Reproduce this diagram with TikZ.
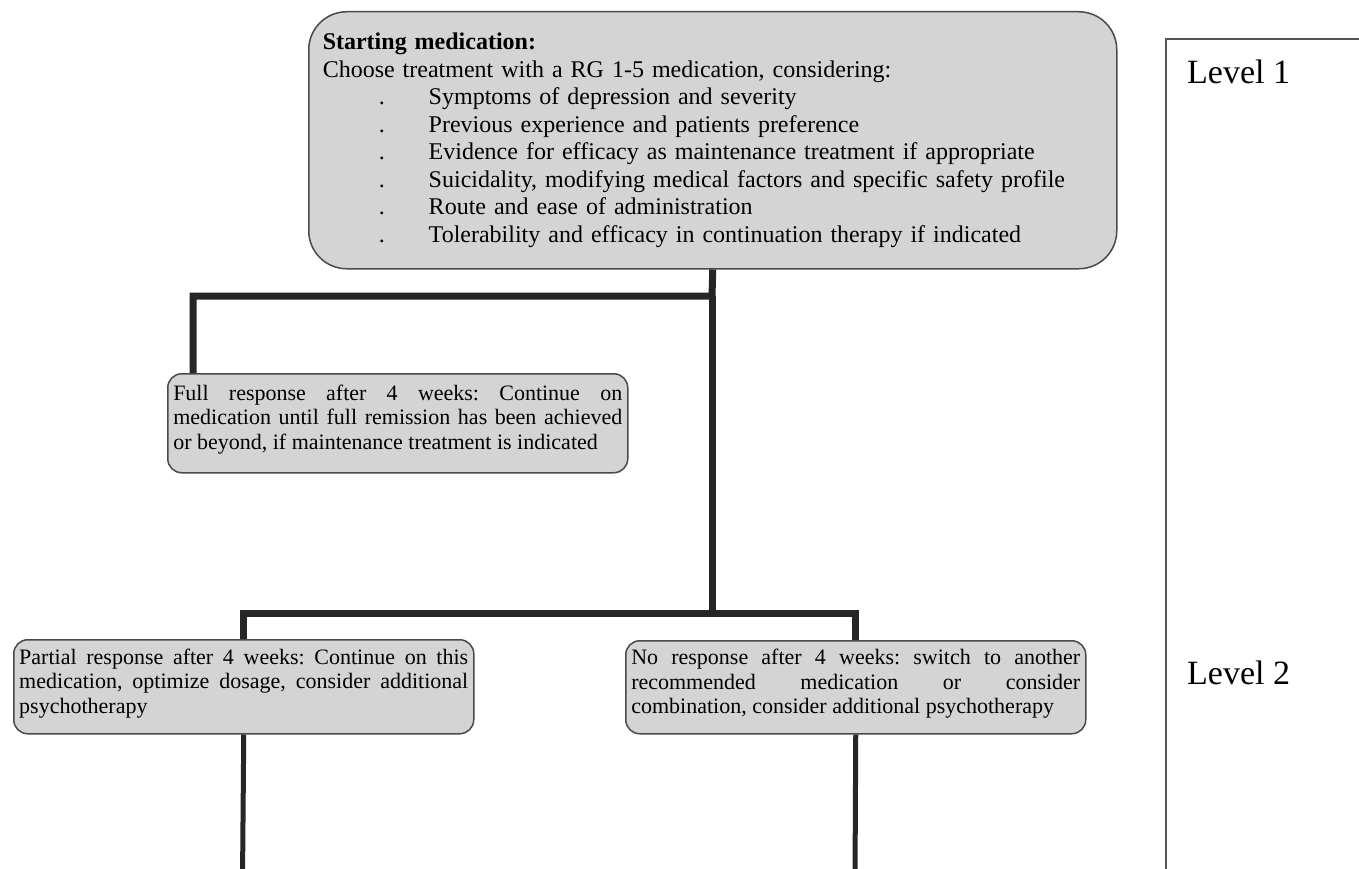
\documentclass[tikz,border=0pt]{standalone}
\usepackage{fontspec}
\setmainfont{Liberation Serif}
\definecolor{boxfill}{HTML}{D4D4D4}
\definecolor{boxline}{HTML}{4A4A4A}
\definecolor{wire}{HTML}{262626}
\definecolor{frameline}{HTML}{555555}
\frenchspacing
\newcommand{\nobreakfont}{\hyphenpenalty=10000 \exhyphenpenalty=10000 \tolerance=10000 \hfuzz=20pt }
\tikzset{
  card/.style={draw=boxline, line width=1.5pt, fill=boxfill, anchor=north west,
    inner ysep=0pt},
  topcard/.style={card, rounded corners=38pt, inner xsep=14pt, text width=780pt,
    minimum height=257pt, align=left, font=\fontsize{24}{27.5}\selectfont},
  smallcard/.style={card, rounded corners=14pt, inner xsep=5.5pt, text width=449pt,
    minimum height=96pt, align=justify,
    font=\fontsize{22}{24.5}\selectfont\nobreakfont},
  wire/.style={draw=wire, line width=7pt},
  thinwire/.style={draw=wire, line width=5pt},
  panel/.style={draw=frameline, line width=2pt, fill=none, anchor=north west,
    minimum width=400pt, minimum height=1000pt, inner sep=0pt},
  levellabel/.style={anchor=base west, inner sep=0pt, font=\fontsize{34}{40}\selectfont}
}
\newcommand{\itemline}[1]{\hspace*{56pt}\makebox[50pt][l]{.}#1}
\newcommand{\lastdepth}{\rule[-12pt]{0pt}{12pt}}
\begin{document}
\begin{tikzpicture}[x=1pt,y=-1pt]
\useasboundingbox (0,0) rectangle (1359,869);
\clip (0,0) rectangle (1359,869);

% side panel with the level markers
\node[panel] (levels) at (1165,38) {};
\node[levellabel] (lev1) at (1187,84) {Level 1};
\node[levellabel] (lev2) at (1187,684) {Level 2};

% boxes
\node[topcard] (start) at (308,11) {%
  \textbf{Starting medication:}\\
  Choose treatment with a RG 1-5 medication, considering:\\
  \itemline{Symptoms of depression and severity}\\
  \itemline{Previous experience and patients preference}\\
  \itemline{Evidence for efficacy as maintenance treatment if appropriate}\\
  \itemline{Suicidality, modifying medical factors and specific safety profile}\\
  \itemline{Route and ease of administration}\\
  \itemline{Tolerability and efficacy in continuation therapy if indicated}};

\node[smallcard, minimum height=99pt] (full) at (167,373) {%
  Full response after 4 weeks: Continue on\linebreak
  medication until full remission has been achieved\linebreak
  or beyond, if maintenance treatment is indicated\lastdepth};

\node[smallcard, minimum height=94pt] (partial) at (13,639) {%
  Partial response after 4 weeks: Continue on this\linebreak
  medication, optimize dosage, consider additional\linebreak
  psychotherapy\lastdepth};

\node[smallcard, minimum height=93pt] (noresp) at (625,640) {%
  No response after 4 weeks: switch to another\linebreak
  recommended medication or consider\linebreak
  combination, consider additional psychotherapy\lastdepth};

% junctions and open ends
\coordinate (j1) at (712,296);
\coordinate (j2) at (712,613);
\coordinate (endA) at (242.5,880);
\coordinate (endB) at (855,880);

% connectors
\draw[wire] (start.south) -- (j1) -| ([xshift=26pt]full.north west);
\draw[wire] (j1) -- (j2);
\draw[wire] (partial.north) |- (j2) -| (noresp.north);
\draw[thinwire] (partial.south) -- (endA);
\draw[thinwire] (noresp.south) -- (endB);
\end{tikzpicture}
\end{document}
